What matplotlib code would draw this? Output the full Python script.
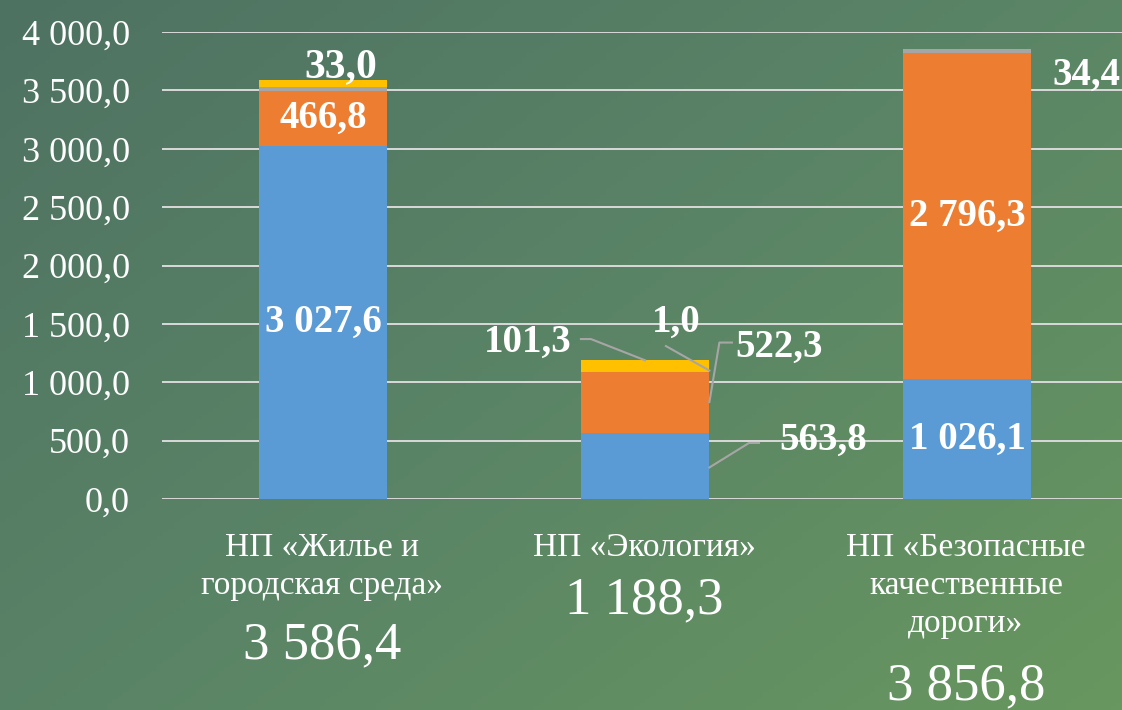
import numpy as np
import matplotlib.pyplot as plt
from matplotlib import rcParams
from matplotlib.colors import LinearSegmentedColormap

rcParams['font.family'] = ['Liberation Serif', 'DejaVu Serif']

# data
categories = ['НП «Жилье и\nгородская среда»', 'НП «Экология»',
              'НП «Безопасные\nкачественные\nдороги»']
totals = ['3 586,4', '1 188,3', '3 856,8']
blue = [3027.6, 563.8, 1026.1]
orange = [466.8, 522.3, 2796.3]
gray = [33.0, 1.0, 34.4]
yellow = [59.0, 101.3, 0.0]
yticks = [0, 500, 1000, 1500, 2000, 2500, 3000, 3500, 4000]

def fmt(v):
    s = '{:,.1f}'.format(v).replace(',', ' ').replace('.', ',')
    return s

fig = plt.figure(figsize=(11.22, 7.10), dpi=100)

# gradient background
bg = fig.add_axes([0, 0, 1, 1])
xx, yy = np.meshgrid(np.linspace(0, 1, 200), np.linspace(0, 1, 200))
grad = 0.55 * xx + 0.45 * yy
cmap = LinearSegmentedColormap.from_list('bg', ['#4e7262', '#5a8466', '#68975f'])
bg.imshow(grad, cmap=cmap, aspect='auto', extent=[0, 1, 0, 1], origin='upper')
bg.set_axis_off()

ax = fig.add_axes([162 / 1122, 211 / 710, 966 / 1122, 467 / 710])
ax.patch.set_alpha(0)
x = np.arange(len(categories))
w = 0.4

b1 = np.array(blue)
b2 = b1 + np.array(orange)
b3 = b2 + np.array(gray)
ax.bar(x, blue, w, color='#5b9bd5', zorder=3)
ax.bar(x, orange, w, bottom=b1, color='#ed7d31', zorder=3)
ax.bar(x, gray, w, bottom=b2, color='#a5a5a5', zorder=3)
ax.bar(x, yellow, w, bottom=b3, color='#ffc000', zorder=3)

ax.set_xlim(-0.5, 2.5)
ax.set_ylim(0, 4000)
ax.set_yticks(yticks)
ax.set_yticklabels([fmt(v) for v in yticks], fontsize=26, color='white')
ax.yaxis.grid(True, color='#d9d9d9', linewidth=1.4, zorder=0)
ax.tick_params(axis='y', length=0, pad=23)
ax.set_xticks([])
for s in ax.spines.values():
    s.set_visible(False)

lab = dict(fontsize=28, fontweight='bold', color='white', ha='center',
           va='center', zorder=5)
lc = dict(color='#a6a6a6', linewidth=1.5, zorder=4)

# bar 1
ax.text(0, blue[0] / 2, fmt(blue[0]), **lab)
ax.text(0, b1[0] + orange[0] / 2, fmt(orange[0]), **lab)
ax.text(0.056, 3700, fmt(gray[0]), **dict(lab, fontsize=30))

# bar 2
ax.text(1.553, 500, fmt(blue[1]), **lab)
ax.plot([1.2, 1.323, 1.354], [270, 480, 480], **lc)
ax.text(1.416, 1300, fmt(orange[1]), **lab)
ax.plot([1.2, 1.231, 1.27], [830, 1340, 1340], **lc)
ax.text(1.096, 1515, fmt(gray[1]), **lab)
ax.plot([1.065, 1.2], [1310, 1100], **lc)
ax.text(0.637, 1340, fmt(yellow[1]), **lab)
ax.plot([0.801, 0.832, 1.0], [1370, 1370, 1188.3], **lc)

# bar 3
ax.text(2, blue[2] / 2, fmt(blue[2]), **lab)
ax.text(2, b1[2] + orange[2] / 2, fmt(orange[2]), **lab)
ax.text(2.37, 3630, fmt(gray[2]), **lab)

# category labels and totals
tot_y = [645, 600, 686]
cat_fig_x = [322, 644, 966]
for i in range(3):
    fig.text(cat_fig_x[i] / 1122, 1 - 532 / 710, categories[i], fontsize=24,
             color='white', ha='center', va='top', linespacing=1.33)
    fig.text(cat_fig_x[i] / 1122, 1 - tot_y[i] / 710, totals[i], fontsize=38,
             color='white', ha='center', va='center')

fig.savefig('out.png', dpi=100)
